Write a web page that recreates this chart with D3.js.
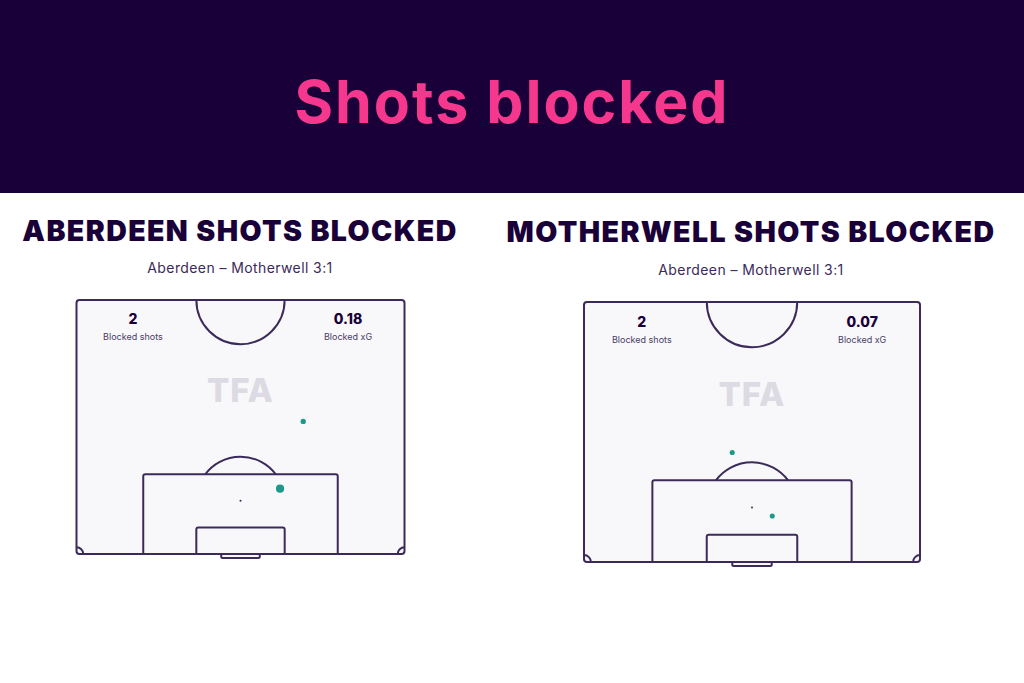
<!DOCTYPE html>
<html><head><meta charset="utf-8">
<script src="https://cdn.jsdelivr.net/npm/d3@7"></script>
<style>body{margin:0;background:#fff}svg{display:block}</style>
</head><body>
<svg id="c" width="1024" height="683"></svg>
<script>
const title = "Shots blocked";
const teams = ["ABERDEEN SHOTS BLOCKED", "MOTHERWELL SHOTS BLOCKED"];
const matchLabel = "Aberdeen – Motherwell 3:1";
const blockedShots = [2, 2];
const blockedXG = ["0.18", "0.07"];
// shots: x across pitch width (m, 0-68 from left), d = distance from goal line (m), xg
const aberdeenShots = [
  {x: 47.0, d: 27.4, xg: 0.04},
  {x: 42.2, d: 13.5, xg: 0.14}
];
const motherwellShots = [
  {x: 30.0, d: 22.1, xg: 0.035},
  {x: 38.1, d: 9.3, xg: 0.035}
];

const svg = d3.select("#c");
const line = "#3b2a5a", fill = "#f8f8fa", dot = "#1b9a8a";

svg.append("rect").attr("x",0).attr("y",0).attr("width",1024).attr("height",193).attr("fill","#1a0038");
svg.append("text").attr("x",512).attr("y",123).attr("text-anchor","middle")
  .attr("font-family","Inter, sans-serif").attr("font-weight",700).attr("font-size",59)
  .attr("letter-spacing",2).attr("fill","#f5388e").text(title);

const rScale = d3.scaleSqrt().domain([0,0.15]).range([1,4.2]);

function pitch(cx, titleY, subY, x0, y0, w, h, name, shots, nShots, xg){
  svg.append("text").attr("x",cx).attr("y",titleY).attr("text-anchor","middle")
    .attr("font-family","Inter, sans-serif").attr("font-weight",900).attr("font-size",28.5)
    .attr("letter-spacing",1.4).attr("fill","#1a0038").text(name);
  svg.append("text").attr("x",cx).attr("y",subY).attr("text-anchor","middle")
    .attr("font-family","Inter, sans-serif").attr("font-size",14).attr("letter-spacing",0.4)
    .attr("fill","#3b2a5a").text(matchLabel);

  const xs = d3.scaleLinear().domain([0,68]).range([x0, x0+w]);
  const ys = d3.scaleLinear().domain([0,52.5]).range([y0+h, y0]);
  const k = w/68;
  const g = svg.append("g");
  const st = s => s.attr("fill","none").attr("stroke",line).attr("stroke-width",2);

  // goal
  st(g.append("rect").attr("x",xs(30)).attr("y",ys(0)).attr("width",xs(38)-xs(30)).attr("height",4).attr("rx",1.5)).attr("fill",fill);
  g.append("rect").attr("x",xs(0)).attr("y",ys(52.5)).attr("width",w).attr("height",h).attr("rx",3)
    .attr("fill",fill).attr("stroke",line).attr("stroke-width",2);
  // center circle (half)
  const cc = d3.arc().innerRadius(9.15*k).outerRadius(9.15*k).startAngle(Math.PI/2).endAngle(Math.PI*1.5);
  st(g.append("path").attr("d",cc()).attr("transform",`translate(${xs(34)},${ys(52.5)})`));
  // penalty arc
  const ang = Math.acos(5.5/9.15);
  const pa = d3.arc().innerRadius(9.15*k).outerRadius(9.15*k).startAngle(-ang).endAngle(ang);
  st(g.append("path").attr("d",pa()).attr("transform",`translate(${xs(34)},${ys(11)})`));
  // penalty box
  st(g.append("path").attr("d",`M${xs(13.84)},${ys(0)} V${ys(16.5)+2} Q${xs(13.84)},${ys(16.5)} ${xs(13.84)+2},${ys(16.5)} H${xs(54.16)-2} Q${xs(54.16)},${ys(16.5)} ${xs(54.16)},${ys(16.5)+2} V${ys(0)}`));
  // six yard box
  st(g.append("path").attr("d",`M${xs(24.84)},${ys(0)} V${ys(5.5)+2} Q${xs(24.84)},${ys(5.5)} ${xs(24.84)+2},${ys(5.5)} H${xs(43.16)-2} Q${xs(43.16)},${ys(5.5)} ${xs(43.16)},${ys(5.5)+2} V${ys(0)}`));
  // corner arcs
  const ca = d3.arc().innerRadius(1.4*k).outerRadius(1.4*k);
  st(g.append("path").attr("d",ca.startAngle(0).endAngle(Math.PI/2)()).attr("transform",`translate(${xs(0)},${ys(0)})`));
  st(g.append("path").attr("d",ca.startAngle(-Math.PI/2).endAngle(0)()).attr("transform",`translate(${xs(68)},${ys(0)})`));
  // penalty spot
  g.append("circle").attr("cx",xs(34)).attr("cy",ys(11)).attr("r",1).attr("fill",line);

  // watermark
  g.append("text").attr("x",xs(34)).attr("y",ys(31.5)).attr("text-anchor","middle")
    .attr("font-family","Inter, sans-serif").attr("font-weight",800).attr("font-size",33)
    .attr("fill","#dcdae3").attr("letter-spacing",1).text("TFA");

  // stats
  const sx1 = xs(11.7), sx2 = xs(56.3);
  [[sx1, nShots, "Blocked shots"],[sx2, xg, "Blocked xG"]].forEach(([x,v,l])=>{
    g.append("text").attr("x",x).attr("y",ys(47.5)).attr("text-anchor","middle")
      .attr("font-family","Inter, sans-serif").attr("font-weight",800).attr("font-size",14)
      .attr("fill","#1a0038").text(v);
    g.append("text").attr("x",x).attr("y",ys(44.2)).attr("text-anchor","middle")
      .attr("font-family","Inter, sans-serif").attr("font-size",9)
      .attr("fill","#4a3c66").text(l);
  });

  g.selectAll("circle.shot").data(shots).join("circle").attr("class","shot")
    .attr("cx",d=>xs(d.x)).attr("cy",d=>ys(d.d)).attr("r",d=>rScale(d.xg)).attr("fill",dot);
}

pitch(240, 241, 273, 76.5, 300, 328, 254, teams[0], aberdeenShots, blockedShots[0], blockedXG[0]);
pitch(751, 242, 275, 584, 302, 336, 260, teams[1], motherwellShots, blockedShots[1], blockedXG[1]);
</script>
</body></html>
